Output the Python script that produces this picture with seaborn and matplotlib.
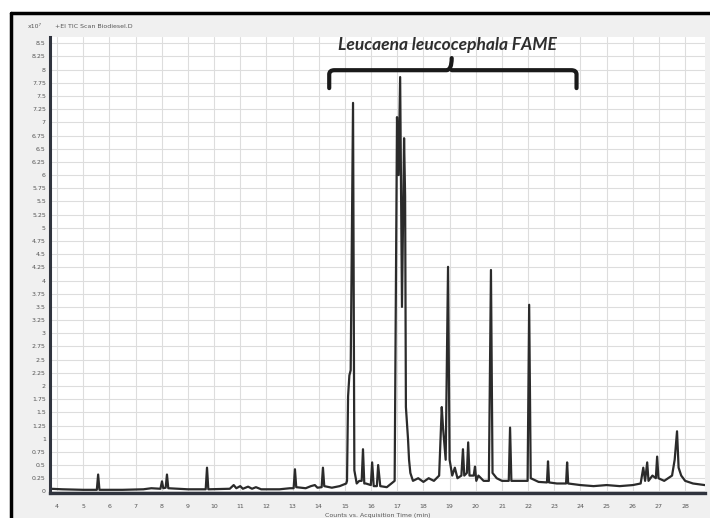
import numpy as np
import pandas as pd
import seaborn as sns
import matplotlib.pyplot as plt
from matplotlib.patches import Rectangle, PathPatch
from matplotlib.path import Path

# chromatogram trace (minutes, counts x10^7)
rt_min = [3.75, 4.2, 5.0, 5.52, 5.57, 5.62, 6.5, 7.3, 7.6, 7.95, 8.01, 8.06, 8.15, 8.2, 8.25,
          8.6, 9.0, 9.68, 9.73, 9.78, 10.6, 10.75, 10.85, 11.0, 11.1, 11.3, 11.45, 11.6, 11.8,
          12.5, 12.9, 13.04, 13.09, 13.14, 13.5, 13.7, 13.85, 13.95, 14.11, 14.16, 14.21, 14.5,
          14.8, 15.05, 15.08, 15.12, 15.17, 15.22, 15.31, 15.36, 15.45, 15.55, 15.64, 15.69,
          15.74, 15.8, 15.99, 16.04, 16.1, 16.22, 16.27, 16.35, 16.6, 16.9, 16.99, 17.05, 17.11,
          17.18, 17.26, 17.3, 17.33, 17.41, 17.45, 17.5, 17.6, 17.8, 18.0, 18.2, 18.4, 18.6,
          18.7, 18.75, 18.8, 18.85, 18.94, 19.0, 19.1, 19.2, 19.3, 19.45, 19.51, 19.56, 19.66,
          19.71, 19.76, 19.92, 19.97, 20.02, 20.1, 20.3, 20.5, 20.58, 20.64, 20.8, 21.0, 21.26,
          21.31, 21.36, 21.6, 21.98, 22.04, 22.1, 22.4, 22.72, 22.76, 22.8, 23.1, 23.45, 23.49,
          23.53, 24.0, 24.5, 25.0, 25.5, 26.0, 26.3, 26.4, 26.47, 26.55, 26.6, 26.75, 26.88,
          26.93, 26.98, 27.2, 27.5, 27.6, 27.69, 27.75, 27.85, 28.0, 28.3, 28.75]
counts = [0.05, 0.04, 0.03, 0.03, 0.32, 0.03, 0.03, 0.04, 0.06, 0.05, 0.19, 0.06, 0.07, 0.32, 0.06,
          0.05, 0.04, 0.04, 0.45, 0.04, 0.05, 0.12, 0.06, 0.10, 0.05, 0.09, 0.05, 0.08, 0.04,
          0.04, 0.06, 0.06, 0.42, 0.08, 0.06, 0.10, 0.12, 0.07, 0.08, 0.45, 0.10, 0.07,
          0.10, 0.15, 0.20, 1.80, 2.20, 2.30, 7.37, 0.40, 0.15, 0.20, 0.20, 0.80,
          0.15, 0.15, 0.12, 0.55, 0.10, 0.10, 0.50, 0.10, 0.08, 0.20, 7.10, 6.00, 7.86,
          3.50, 6.70, 5.60, 1.60, 1.00, 0.60, 0.35, 0.20, 0.25, 0.18, 0.25, 0.20, 0.30,
          1.60, 1.20, 0.90, 0.60, 4.26, 0.60, 0.30, 0.45, 0.25, 0.30, 0.80, 0.30, 0.35,
          0.93, 0.30, 0.30, 0.47, 0.20, 0.30, 0.20, 0.20, 4.20, 0.35, 0.25, 0.20, 0.20,
          1.21, 0.20, 0.20, 0.20, 3.54, 0.25, 0.18, 0.17, 0.57, 0.17, 0.15, 0.15, 0.55,
          0.15, 0.12, 0.10, 0.12, 0.10, 0.12, 0.15, 0.45, 0.20, 0.55, 0.20, 0.30, 0.25,
          0.66, 0.25, 0.20, 0.30, 0.60, 1.14, 0.45, 0.30, 0.20, 0.15, 0.12]

x_ticks = list(range(4, 29))
y_ticks = [i * 0.25 for i in range(0, 35)]

df = pd.DataFrame({"time": rt_min, "counts": counts})

sns.set_style("white")
plt.rcParams["font.family"] = ["DejaVu Sans"]

fig = plt.figure(figsize=(7.1, 5.18), dpi=100)
fig.patch.set_facecolor("white")

# grey panel and black frame like the screenshot
fig.add_artist(Rectangle((0.0155, 0.0), 0.985, 0.975, transform=fig.transFigure,
                         facecolor="#f0f0f0", edgecolor="none", zorder=0))
fig.add_artist(plt.Line2D([0.0155, 1.0], [0.975, 0.975], transform=fig.transFigure,
                          color="black", lw=2.5))
fig.add_artist(plt.Line2D([0.0155, 0.0155], [0.0, 0.975], transform=fig.transFigure,
                          color="black", lw=2.5))

ax = fig.add_axes([0.0704, 0.0483, 0.9226, 0.8803])
ax.set_facecolor("white")

sns.lineplot(data=df, x="time", y="counts", estimator=None, sort=False,
             color="#2b2b2b", lw=1.6, ax=ax)

ax.set_xlim(3.73, 28.76)
ax.set_ylim(-0.03, 8.62)
ax.set_xticks(x_ticks)
ax.set_yticks(y_ticks)
ax.set_yticklabels([f"{v:g}" for v in y_ticks])
ax.grid(True, color="#dddddd", lw=0.8)
ax.tick_params(axis="both", labelsize=4.5, colors="#555555", length=2, width=0.6)
ax.tick_params(axis="x", pad=6)
ax.tick_params(axis="y", pad=1)

for side in ["top", "right"]:
    ax.spines[side].set_visible(False)
ax.spines["left"].set_color("#30343e")
ax.spines["left"].set_linewidth(2.2)
ax.spines["bottom"].set_color("#30343e")
ax.spines["bottom"].set_linewidth(2.4)

ax.set_xlabel("Counts vs. Acquisition Time (min)", fontsize=4.5, color="#555555", labelpad=3)
ax.set_ylabel("")

fig.text(0.049, 0.948, "x10\u2077", fontsize=4.5, color="#555555", ha="center", va="center")
fig.text(0.078, 0.948, "+EI TIC Scan Biodiesel.D", fontsize=4.5, color="#555555",
         ha="left", va="center")

# curly bracket over the FAME region
bx0, bx1, bm = 14.4, 23.85, 19.08
by, bend, btip = 7.99, 7.65, 8.22
verts = [(bx0, bend), (bx0, by - 0.08), (bx0, by), (bx0 + 0.2, by),
         (bm - 0.2, by), (bm, by), (bm, btip),
         (bm, by), (bm + 0.2, by),
         (bx1 - 0.2, by), (bx1, by), (bx1, by - 0.08), (bx1, bend)]
codes = [Path.MOVETO, Path.LINETO, Path.CURVE3, Path.CURVE3,
         Path.LINETO, Path.CURVE3, Path.CURVE3,
         Path.MOVETO, Path.CURVE3,
         Path.LINETO, Path.CURVE3, Path.CURVE3, Path.LINETO]
ax.add_patch(PathPatch(Path(verts, codes), facecolor="none", edgecolor="#1a1a1a",
                       lw=3, capstyle="round", joinstyle="round", zorder=5))

ax.text(bm - 0.15, 8.47, "Leucaena leucocephala FAME", fontsize=12.5, fontweight="bold",
        fontstyle="italic", family="Lato", color="#2e2e2e", ha="center", va="center", zorder=6)

fig.savefig("out.png", dpi=100)
